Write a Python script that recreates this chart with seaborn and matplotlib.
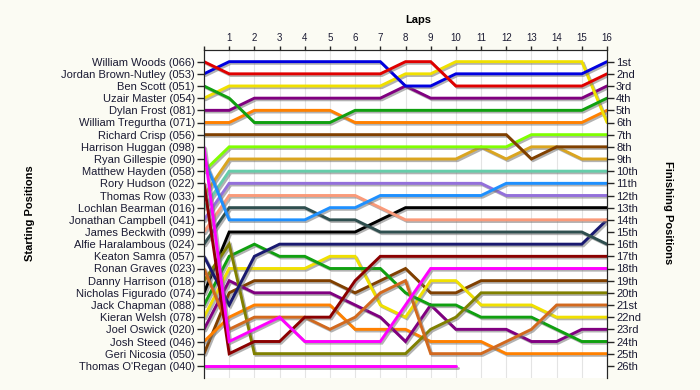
import pandas as pd
import matplotlib
matplotlib.use("Agg")
import matplotlib.pyplot as plt
import matplotlib.patheffects as pe
import seaborn as sns

# laps 0..16, lap 0 = grid position
laps = list(range(17))

drivers = [
    "William Woods (066)", "Jordan Brown-Nutley (053)", "Ben Scott (051)",
    "Uzair Master (054)", "Dylan Frost (081)", "William Tregurtha (071)",
    "Richard Crisp (056)", "Harrison Huggan (098)", "Ryan Gillespie (090)",
    "Matthew Hayden (058)", "Rory Hudson (022)", "Thomas Row (033)",
    "Lochlan Bearman (016)", "Jonathan Campbell (041)", "James Beckwith (099)",
    "Alfie Haralambous (024)", "Keaton Samra (057)", "Ronan Graves (023)",
    "Danny Harrison (018)", "Nicholas Figurado (074)", "Jack Chapman (088)",
    "Kieran Welsh (078)", "Joel Oswick (020)", "Josh Steed (046)",
    "Geri Nicosia (050)", "Thomas O'Regan (040)",
]

colors = [
    "#e00000", "#0000e0", "#10a010", "#f0e000", "#800080", "#ff8000",
    "#804000", "#ff00ff", "#1e90ff", "#80ff00", "#8b0000", "#daa520",
    "#66cdaa", "#9370db", "#fa9a7a", "#2f4f4f", "#191970", "#d2691e",
    "#808000", "#000000", "#10a010", "#f0e000", "#800080", "#ff8000",
    "#804000", "#ff00ff",
]

pos_woods = [1, 2, 2, 2, 2, 2, 2, 2, 1, 1, 3, 3, 3, 3, 3, 3, 2]
pos_brown_nutley = [2, 1, 1, 1, 1, 1, 1, 1, 3, 3, 2, 2, 2, 2, 2, 2, 1]
pos_scott = [3, 4, 6, 6, 6, 6, 5, 5, 5, 5, 5, 5, 5, 5, 5, 5, 4]
pos_master = [4, 3, 3, 3, 3, 3, 3, 3, 2, 2, 1, 1, 1, 1, 1, 1, 6]
pos_frost = [5, 5, 4, 4, 4, 4, 4, 4, 3, 4, 4, 4, 4, 4, 4, 4, 3]
pos_tregurtha = [6, 6, 5, 5, 5, 5, 6, 6, 6, 6, 6, 6, 6, 6, 6, 6, 5]
pos_crisp = [7, 7, 7, 7, 7, 7, 7, 7, 7, 7, 7, 7, 7, 9, 8, 8, 8]
pos_huggan = [8, 24, 23, 22, 24, 24, 24, 24, 21, 18, 18, 18, 18, 18, 18, 18, 18]
pos_gillespie = [9, 14, 14, 14, 14, 13, 13, 12, 12, 12, 12, 12, 11, 11, 11, 11, 11]
pos_hayden = [10, 8, 8, 8, 8, 8, 8, 8, 8, 8, 8, 8, 8, 7, 7, 7, 7]
pos_hudson = [11, 25, 24, 24, 22, 22, 19, 17, 17, 17, 17, 17, 17, 17, 17, 17, 17]
pos_row = [12, 9, 9, 9, 9, 9, 9, 9, 9, 9, 9, 8, 9, 8, 8, 9, 9]
pos_bearman = [13, 10, 10, 10, 10, 10, 10, 10, 10, 10, 10, 10, 10, 10, 10, 10, 10]
pos_campbell = [14, 11, 11, 11, 11, 11, 11, 11, 11, 11, 11, 11, 12, 12, 12, 12, 12]
pos_beckwith = [15, 12, 12, 12, 12, 12, 12, 13, 14, 14, 14, 14, 14, 14, 14, 14, 14]
pos_haralambous = [16, 13, 13, 13, 13, 14, 14, 15, 15, 15, 15, 15, 15, 15, 15, 15, 16]
pos_samra = [17, 21, 17, 16, 16, 16, 16, 16, 16, 16, 16, 16, 16, 16, 16, 16, 14]
pos_graves = [18, 23, 22, 22, 22, 23, 22, 20, 19, 25, 25, 25, 24, 23, 21, 21, 21]
pos_harrison = [19, 16, 25, 25, 25, 25, 25, 25, 25, 23, 22, 20, 20, 20, 20, 20, 20]
pos_figurado = [20, 15, 15, 15, 15, 15, 15, 14, 13, 13, 13, 13, 13, 13, 13, 13, 13]
pos_chapman = [21, 17, 16, 17, 17, 18, 18, 18, 20, 21, 21, 22, 22, 22, 23, 24, 24]
pos_welsh = [22, 18, 18, 18, 18, 17, 17, 21, 22, 19, 19, 21, 21, 21, 22, 22, 22]
pos_oswick = [23, 19, 20, 20, 20, 20, 21, 22, 24, 21, 23, 23, 23, 24, 24, 23, 23]
pos_steed = [24, 22, 21, 21, 21, 21, 23, 23, 23, 24, 24, 24, 25, 25, 25, 25, 25]
pos_nicosia = [25, 20, 19, 19, 19, 19, 20, 19, 18, 20, 20, 19, 19, 19, 19, 19, 19]
pos_oregan = [26, 26, 26, 26, 26, 26, 26, 26, 26, 26, 26]  # retired after lap 10

positions = [
    pos_woods, pos_brown_nutley, pos_scott, pos_master, pos_frost, pos_tregurtha,
    pos_crisp, pos_huggan, pos_gillespie, pos_hayden, pos_hudson, pos_row,
    pos_bearman, pos_campbell, pos_beckwith, pos_haralambous, pos_samra,
    pos_graves, pos_harrison, pos_figurado, pos_chapman, pos_welsh, pos_oswick,
    pos_steed, pos_nicosia, pos_oregan,
]

finish_labels = [
    "1st", "2nd", "3rd", "4th", "5th", "6th", "7th", "8th", "9th", "10th",
    "11th", "12th", "13th", "14th", "15th", "16th", "17th", "18th", "19th",
    "20th", "21st", "22nd", "23rd", "24th", "25th", "26th",
]

# long table for seaborn
rows = []
for name, p in zip(drivers, positions):
    for lap, v in zip(laps, p):
        rows.append({"Driver": name, "Lap": lap, "Pos": v})
df = pd.DataFrame(rows)

sns.set_style("ticks")
plt.rcParams["font.family"] = ["Liberation Sans", "DejaVu Sans"]
txt = "#1a1a33"

fig = plt.figure(figsize=(7, 3.9), dpi=100, facecolor="#fbfbf3")
ax = fig.add_axes([204 / 700, 12 / 390, 403 / 700, 328.5 / 390])
ax.set_facecolor("white")

sns.lineplot(data=df, x="Lap", y="Pos", hue="Driver", hue_order=drivers[::-1],
             palette=dict(zip(drivers, colors)), estimator=None, sort=False,
             legend=False, lw=2.1, ax=ax)

for line in ax.get_lines():
    line.set_path_effects([pe.SimpleLineShadow(offset=(1.2, -1.2), shadow_color="0.45", alpha=0.55),
                           pe.Normal()])
    line.set_solid_joinstyle("miter")

ax.set_xlim(0, 16)
ax.set_ylim(27, 0)
ax.xaxis.tick_top()
ax.set_xticks(laps)
ax.set_xticklabels([""] + [str(i) for i in laps[1:]])
ax.set_yticks(range(1, 27))
ax.set_yticklabels(drivers)
ax.grid(axis="x", color="#e4e4e4", lw=0.8)
ax.set_axisbelow(True)
ax.set_xlabel("")
ax.set_ylabel("")
ax.spines["bottom"].set_visible(False)
ax.tick_params(axis="y", direction="out", length=5, width=1, labelsize=8,
               pad=1.5, labelcolor=txt, left=True)
ax.tick_params(axis="x", direction="out", length=3, width=1, labelsize=7,
               pad=1.5, labelcolor=txt, top=True, bottom=False)

ax2 = ax.twinx()
ax2.set_ylim(27, 0)
ax2.set_yticks(range(1, 27))
ax2.set_yticklabels(finish_labels)
ax2.spines["bottom"].set_visible(False)
ax2.tick_params(axis="y", direction="out", length=5, width=1, labelsize=8,
                pad=1.5, labelcolor=txt, right=True)

fig.text(418 / 700, 1 - 20 / 390, "Laps", ha="center", va="center",
         fontsize=8, fontweight="bold", color="black")
fig.text(30 / 700, 1 - 213 / 390, "Starting Positions", ha="center", va="center",
         rotation=90, fontsize=8, fontweight="bold", color="black")
fig.text(668 / 700, 1 - 213 / 390, "Finishing Positions", ha="center", va="center",
         rotation=270, fontsize=8, fontweight="bold", color="black")

fig.savefig("out.png", dpi=100, facecolor=fig.get_facecolor())
